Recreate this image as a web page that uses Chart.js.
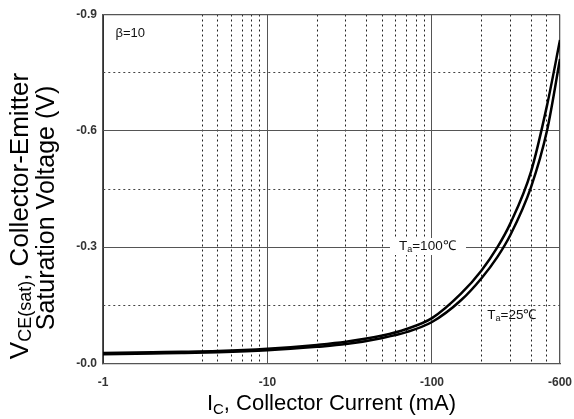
<!DOCTYPE html>
<html>
<head>
<meta charset="utf-8">
<script src="https://cdn.jsdelivr.net/npm/chart.js@4.4.1/dist/chart.umd.min.js"></script>
<style>
  html, body { margin: 0; padding: 0; background: #fff; }
  #wrap { width: 574px; height: 419px; position: relative; }
</style>
</head>
<body>
<div id="wrap"><canvas id="chart"></canvas></div>
<script>
// collector current magnitude (mA) - axis is drawn as negative values
const currentMag = [1, 2, 3, 5, 10, 20, 30, 50, 70, 100, 150, 200, 250, 300, 400, 500, 600];
// VCE(sat) in volts
const vce100 = [-0.027, -0.029, -0.030, -0.032, -0.038, -0.048, -0.056, -0.072, -0.089, -0.117, -0.180, -0.240, -0.300, -0.362, -0.495, -0.665, -0.834];
const vce25  = [-0.024, -0.026, -0.027, -0.029, -0.034, -0.043, -0.050, -0.066, -0.081, -0.107, -0.163, -0.220, -0.275, -0.332, -0.455, -0.600, -0.785];

const xTicks = [1, 4, 5, 6, 7, 8, 9, 10, 20, 30, 40, 50, 60, 70, 80, 90, 100, 200, 300, 400, 500, 600];
const xMajor = [1, 10, 100, 600];
const yTicks = [-0.9, -0.75, -0.6, -0.45, -0.3, -0.15, 0];
const yMajor = [-0.9, -0.6, -0.3, 0];

const FONT = '"Liberation Sans", Arial, Helvetica, sans-serif';

function isMajor(list, v) {
  return list.some(t => Math.abs(t - v) < 1e-9);
}

// text with a subscript part: parts = [[text, size, shift], ...]
function richText(ctx, parts, x, y, align) {
  let w = 0;
  parts.forEach(p => { ctx.font = p[1] + 'px ' + FONT; w += ctx.measureText(p[0]).width; });
  let cx = align === 'center' ? x - w / 2 : x;
  ctx.textAlign = 'left';
  ctx.textBaseline = 'middle';
  parts.forEach(p => {
    ctx.font = p[1] + 'px ' + FONT;
    ctx.fillText(p[0], cx, y + p[2]);
    cx += ctx.measureText(p[0]).width;
  });
  return w;
}

const labelsPlugin = {
  id: 'labels',
  afterDatasetsDraw(chart) {
    const ctx = chart.ctx;
    const xs = chart.scales.x, ys = chart.scales.y;
    ctx.save();
    ctx.fillStyle = '#111';

    // beta
    richText(ctx, [['β=10', 13, 0]], xs.getPixelForValue(1.19), ys.getPixelForValue(-0.852), 'left');

    // Ta = 100 label with white box over the grid line
    const t100 = [['T', 13.5, 0], ['a', 9, 3.5], ['=100℃', 13.5, 0]];
    const x1 = xs.getPixelForValue(63), y1 = ys.getPixelForValue(-0.303);
    ctx.fillStyle = '#fff';
    ctx.fillRect(x1 - 9, y1 - 8, 76, 17);
    ctx.fillStyle = '#111';
    richText(ctx, t100, x1, y1, 'left');

    const t25 = [['T', 13.5, 0], ['a', 9, 3.5], ['=25℃', 13.5, 0]];
    richText(ctx, t25, xs.getPixelForValue(217), ys.getPixelForValue(-0.125), 'left');

    // axis titles
    const area = chart.chartArea;
    ctx.fillStyle = '#000';
    richText(ctx, [['I', 22, 0], ['C', 15, 6], [', Collector Current (mA)', 22, 0]],
      (area.left + area.right) / 2, 404, 'center');

    ctx.translate(21, 216);
    ctx.rotate(-Math.PI / 2);
    richText(ctx, [['V', 26, 0], ['CE(sat)', 18, 5], [', Collector-Emitter', 26, 0]], 0, 0, 'center');
    richText(ctx, [['Saturation Voltage (V)', 25, 0]], 8, 26, 'center');
    ctx.restore();
  }
};

new Chart(document.getElementById('chart'), {
  type: 'line',
  data: {
    datasets: [
      {
        label: 'Ta=100℃',
        data: currentMag.map((c, i) => ({ x: c, y: vce100[i] })),
        borderColor: '#000',
        borderWidth: 2.5,
        pointRadius: 0,
        cubicInterpolationMode: 'monotone'
      },
      {
        label: 'Ta=25℃',
        data: currentMag.map((c, i) => ({ x: c, y: vce25[i] })),
        borderColor: '#000',
        borderWidth: 2.5,
        pointRadius: 0,
        cubicInterpolationMode: 'monotone'
      }
    ]
  },
  options: {
    responsive: true,
    maintainAspectRatio: false,
    animation: false,
    layout: { padding: { top: 14.5, right: 14, left: 0, bottom: 0 } },
    plugins: {
      legend: { display: false },
      tooltip: { enabled: false }
    },
    scales: {
      x: {
        type: 'logarithmic',
        min: 1,
        max: 600,
        afterBuildTicks: s => { s.ticks = xTicks.map(v => ({ value: v })); },
        afterFit: s => { s.height = 55.5; s.paddingLeft = 0; s.paddingRight = 0; },
        ticks: {
          autoSkip: false,
          minRotation: 0,
          maxRotation: 0,
          padding: 12,
          color: '#333',
          font: { family: FONT, size: 12, weight: 'bold' },
          callback: v => isMajor(xMajor, v) ? '-' + v : ''
        },
        grid: {
          drawTicks: false,
          color: c => c.tick && !isMajor([10, 100, 600], c.tick.value) ? '#222' : '#555',
          lineWidth: c => c.tick && c.tick.value === 600 ? 1.3 : 1
        },
        border: {
          color: '#555',
          width: 1.3,
          dash: c => c.tick && !isMajor(xMajor, c.tick.value) ? [2, 3] : []
        }
      },
      y: {
        type: 'linear',
        min: -0.9,
        max: 0,
        reverse: true,
        afterBuildTicks: s => { s.ticks = yTicks.map(v => ({ value: v })); },
        afterFit: s => { s.width = 103; s.paddingTop = 0; s.paddingBottom = 0; },
        ticks: {
          padding: 6,
          color: '#333',
          font: { family: FONT, size: 12, weight: 'bold' },
          callback: v => isMajor(yMajor, v) ? '-' + Math.abs(v).toFixed(1) : ''
        },
        grid: {
          drawTicks: false,
          color: c => c.tick && !isMajor(yMajor, c.tick.value) ? '#444' : '#555',
          lineWidth: c => c.tick && c.tick.value === -0.9 ? 1.3 : 1
        },
        border: {
          color: '#555',
          width: 1.3,
          dash: c => c.tick && !isMajor(yMajor, c.tick.value) ? [2, 3] : []
        }
      }
    }
  },
  plugins: [labelsPlugin]
});
</script>
</body>
</html>
